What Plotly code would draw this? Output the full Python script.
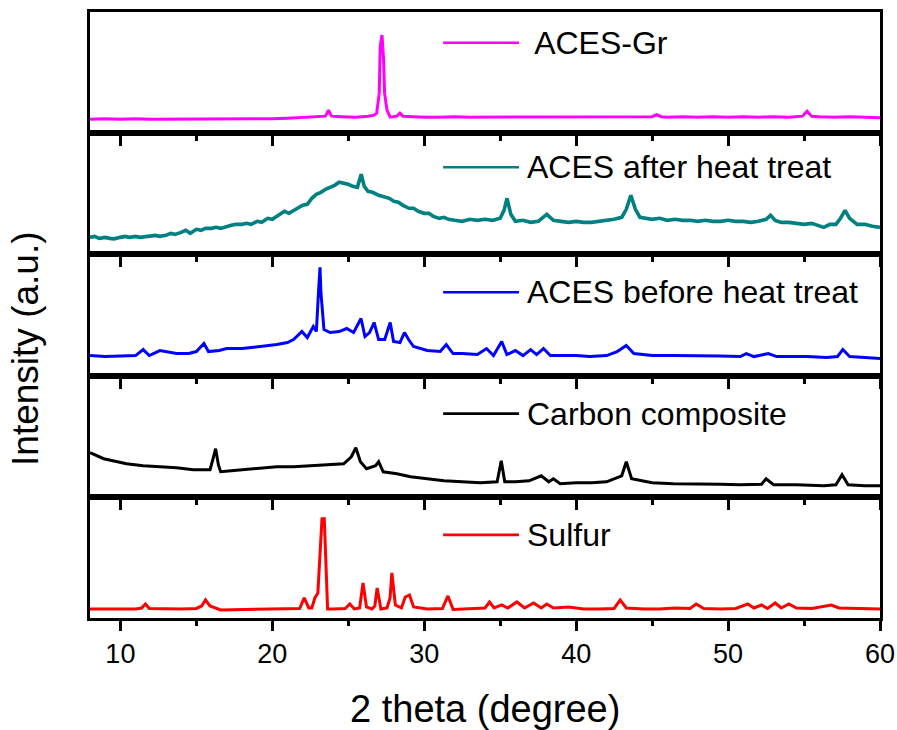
import plotly.graph_objects as go
from plotly.subplots import make_subplots

# ---- data (2theta, intensity a.u.) ----
ACES_GR = [(8,14),(9,14.5),(10,14),(11,14.5),(12,14),(13,14),(14,14),(15,14),(16,14),(17,14),
           (18,14),(19,14),(20,14.5),(21,15),(22,15.5),(23,16),(23.5,17),(23.7,23),(23.9,17),
           (24.5,16.5),(25.5,16),(26.3,17),(26.7,18),(26.87,20),(27.04,40),(27.1,86),(27.22,98),
           (27.32,75),(27.39,40),(27.55,23),(27.76,16),(28.2,17),(28.4,20),(28.6,17),(29,16.5),
           (30,16),(31,16),(32,16.5),(33,16),(34,16),(35,16.5),(36,16),(37,16),(38,16.5),(39,16),
           (40,16),(41,16.5),(42,16),(43,16.5),(44,16),(45,16.5),(45.3,18.5),(45.6,16.5),(46,16),
           (47,16.5),(48,16),(49,16.5),(50,16),(51,16.5),(52,16),(53,16.5),(54,16),(54.9,17),
           (55.2,22),(55.5,17),(56,16.5),(57,16),(58,16.5),(59,16),(60,15.5)]

ACES_AFTER = [(8,17),(8.3,18),(8.6,16),(9,17),(9.3,16),(9.6,15.5),(10,17),(10.3,18),(10.6,17),
              (11,18),(11.3,17),(11.6,17.5),(12,18),(12.3,19),(12.6,18),(13,19),(13.3,21),(13.6,20),
              (14,22),(14.3,24),(14.6,21),(15,25),(15.3,24),(15.6,26),(16,26),(16.3,27),(16.6,26),
              (17,28),(17.3,29),(17.6,30),(18,30),(18.3,31),(18.6,30),(19,33),(19.3,32),(19.7,36),
              (20,35),(20.3,38),(20.6,41),(20.8,43),(21.1,41),(21.4,44),(21.7,46),(22,49),(22.3,50),
              (22.6,56),(22.9,60),(23.2,62),(23.5,65),(23.8,67),(24.1,69),(24.4,72),(24.7,71),
              (25,70),(25.3,68),(25.6,67),(25.85,80),(26.05,68),(26.3,63),(26.6,62),(27,59),
              (27.4,57),(27.7,56),(28,53),(28.3,52),(28.6,49),(29,46),(29.3,46),(29.6,43),(30,41),
              (30.3,41),(30.6,38),(31,36),(31.3,37),(31.6,35),(32,34),(32.5,33),(33,35),(33.5,34),
              (34,35),(34.5,34),(35,36),(35.25,44),(35.45,56),(35.7,40),(36,33),(36.5,34),(37,32),
              (37.5,33),(38.07,40),(38.5,34),(39,33),(39.5,32),(40,33),(40.5,32),(41,32),(41.5,33),
              (42,34),(42.5,35),(43,37),(43.3,45),(43.6,59),(43.9,45),(44.2,37),(44.5,36),(45,35),
              (45.5,36),(46,34),(46.5,35),(47,34),(47.5,34),(48,33),(48.5,34),(49,33),(49.5,33),
              (50,34),(50.5,33),(51,33),(51.5,32),(52,33),(52.5,35),(52.8,39),(53.1,34),(53.5,32),
              (54,32),(54.5,31),(55,30),(55.5,31),(56,29),(56.3,27),(56.7,30),(57.1,30),(57.4,36),
              (57.7,44),(58,36),(58.5,30),(59,30),(59.5,28),(60,27)]

ACES_BEFORE = [(8,20),(9,19),(10,19.5),(11,20),(11.5,26),(11.9,20),(12.6,25),(13.7,22),(14.5,22),
               (15.0,24),(15.5,32),(15.8,24),(16.5,25),(17.0,27),(18,27),(19.2,29),(20.3,31),(21,33),
               (21.4,36),(21.95,44),(22.3,38),(22.7,49),(22.9,44),(23.05,86),(23.14,108),(23.2,83),
               (23.4,46),(23.8,43),(24.4,44),(24.9,47),(25.35,43),(25.84,57),(26.1,39),(26.4,43),
               (26.7,53),(27.0,36),(27.4,36),(27.76,53),(27.98,34),(28.4,33),(28.7,43),(28.97,36),
               (29.3,29),(30.2,25),(31.05,24),(31.45,31),(31.9,22),(32.5,22),(33.5,21),(34.1,27),
               (34.56,20),(35.1,34),(35.44,21),(36.0,25),(36.5,20),(37.0,26),(37.4,21),(37.85,27),
               (38.3,20),(39,20),(40,20),(40.9,19),(42,20),(42.7,24),(43.3,30),(43.8,22),(45,20),
               (46.4,20),(48,20),(49.5,19.5),(50.8,19),(51.2,22),(51.7,19),(52.65,22),(53.2,19),
               (54,19),(55.2,19),(56.5,18),(57.2,19),(57.55,26),(58.0,19),(59,18),(60,17)]

CARBON = [(8,44),(8.4,41),(8.9,38),(9.5,36),(10.4,33),(11.5,31),(12.6,30),(13.7,29),(14.8,27),
          (15.9,27),(16.1,38),(16.27,48),(16.45,32),(16.6,25),(17.3,26),(18.1,27),(19.2,28),
          (20.3,30),(21.4,30),(22.5,31),(23.6,32),(24.7,33),(25.2,40),(25.5,49),(25.8,35),(26.2,28),
          (26.8,31),(27.0,35),(27.3,25),(28.2,23),(29.1,20),(30.2,18),(31.3,16),(32.5,15),(33.7,14),
          (34.8,15),(35.07,36),(35.3,15),(36.0,15),(36.9,16),(37.7,21),(38.2,15),(38.5,18),
          (38.95,13),(40,14),(41,14),(42.0,15),(43.0,21),(43.3,35),(43.65,18),(45,14),(46.4,13),
          (48,13),(49.5,12.5),(50.8,12),(52.2,12.5),(52.5,18),(53.0,12),(54.5,12),(56.3,11),
          (57.1,12),(57.5,22),(57.9,12),(59,11),(60,11)]

SULFUR = [(8,9),(9,9),(10,9),(11,9),(11.4,10),(11.65,14),(11.9,9.5),(13,9),(14,9),(15,9.5),
          (15.35,12),(15.6,18),(15.9,12),(16.6,8),(18,8.5),(19,8.5),(20,9),(21,9),(21.8,9.5),
          (22.1,20),(22.4,10),(22.6,10),(22.8,20),(23.0,25),(23.1,56),(23.27,99),(23.42,99),
          (23.53,56),(23.64,9),(24,9),(24.8,9.5),(25.1,14),(25.4,9),(25.75,10),(25.97,35),(26.2,11),
          (26.56,9),(26.75,12),(26.9,30),(27.15,9),(27.55,10),(27.75,20),(27.87,45),(28.1,13),
          (28.5,10),(28.75,21),(29.03,23),(29.3,11),(30.2,9),(31.2,9.5),(31.56,22),(31.9,8.5),
          (33,9),(34.0,10),(34.3,16),(34.6,10),(35.1,13),(35.5,10),(36.1,16),(36.6,10),(37.2,15),
          (37.7,10),(38.07,14),(38.5,10),(39.5,11),(40.5,9),(41.5,9),(42.5,9.5),(42.9,18),(43.3,10),
          (44.5,9),(45.5,9),(46.5,10),(47.5,9.5),(47.9,14),(48.4,9.5),(49.5,9),(50.5,9.5),(51.3,14),
          (51.7,10),(52.2,13),(52.6,9.5),(53.1,15),(53.5,10),(54.0,14),(54.5,10),(55.5,9.5),
          (56.8,13),(57.3,10),(58.5,9.5),(59.5,9),(60,9)]

SERIES = [("ACES-Gr", " ACES-Gr", ACES_GR, "#FF00FF", 0.746, 3.0),
          ("ACES after heat treat", "ACES after heat treat", ACES_AFTER, "#008080", 0.719, 3.6),
          ("ACES before heat treat", "ACES before heat treat", ACES_BEFORE, "#0000FF", 0.688, 3.0),
          ("Carbon composite", "Carbon composite", CARBON, "#000000", 0.686, 3.0),
          ("Sulfur", "Sulfur", SULFUR, "#FF0000", 0.686, 3.0)]

X_RANGE = [8, 60]
X_TICKS = [10, 20, 30, 40, 50, 60]
X_MINOR = [15, 25, 35, 45, 55]
Y_RANGE = [0, 121]

FONT = "Liberation Sans, Arial, sans-serif"

fig = make_subplots(rows=5, cols=1, shared_xaxes=False, vertical_spacing=0)

for i, (name, label, data, color, ly, lw) in enumerate(SERIES, start=1):
    xs = [p[0] for p in data]
    ys = [p[1] for p in data]
    fig.add_trace(go.Scatter(x=xs, y=ys, mode="lines", name=name,
                             line=dict(color=color, width=lw), showlegend=False),
                  row=i, col=1)
    xa = "x" if i == 1 else f"x{i}"
    ya = "y" if i == 1 else f"y{i}"
    # legend sample line + label
    fig.add_shape(type="line", xref=f"{xa} domain", yref=f"{ya} domain",
                  x0=0.447, x1=0.543, y0=ly, y1=ly,
                  line=dict(color=color, width=2.6))
    fig.add_annotation(xref=f"{xa} domain", yref=f"{ya} domain", x=0.551, y=ly,
                       text=label, showarrow=False, xanchor="left", yanchor="middle",
                       font=dict(family=FONT, size=32, color="black"))
    fig.update_xaxes(row=i, col=1, range=X_RANGE, tickvals=X_TICKS, automargin=False,
                     showline=True, linewidth=3, linecolor="black", mirror=True,
                     ticks="outside", ticklen=10, tickwidth=2.5, tickcolor="black",
                     minor=dict(ticks="outside", ticklen=5, tickwidth=2.5, tickcolor="black",
                                tickvals=X_MINOR),
                     showgrid=False, zeroline=False,
                     showticklabels=(i == 5),
                     tickfont=dict(family=FONT, size=27, color="black"))
    fig.update_yaxes(row=i, col=1, range=Y_RANGE, showline=True, linewidth=3, automargin=False,
                     linecolor="black", mirror=True, ticks="", showticklabels=False,
                     showgrid=False, zeroline=False)

fig.add_annotation(xref="paper", yref="paper", x=-0.081, y=0.444, text="Intensity (a.u.)",
                   textangle=-90, showarrow=False, xanchor="center", yanchor="middle",
                   font=dict(family=FONT, size=37, color="black"))
fig.add_annotation(xref="paper", yref="paper", x=0.5, y=-0.150, text="2 theta (degree)",
                   showarrow=False, xanchor="center", yanchor="middle",
                   font=dict(family=FONT, size=38, color="black"))

fig.update_layout(width=897, height=730,
                  margin=dict(l=90, r=17, t=12, b=112, autoexpand=False),
                  paper_bgcolor="white", plot_bgcolor="rgba(0,0,0,0)",
                  showlegend=False)

fig.write_html("out.html")
